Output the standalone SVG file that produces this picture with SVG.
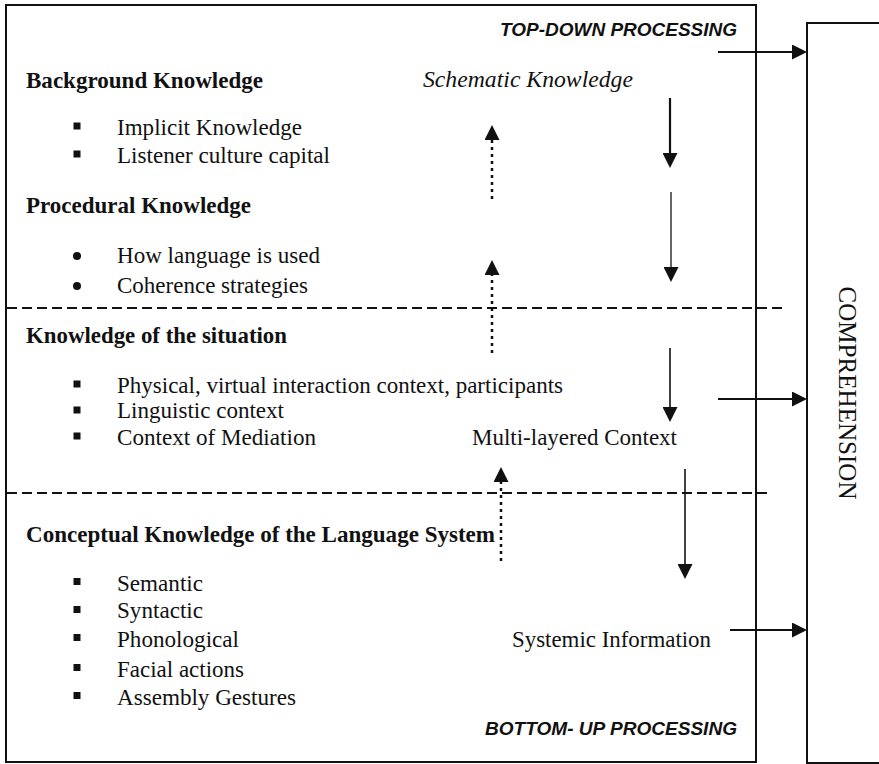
<svg xmlns="http://www.w3.org/2000/svg" width="879" height="764" viewBox="0 0 879 764">
<style>
.t{font-family:"Liberation Serif","Times New Roman",serif;font-size:24px;fill:#111}
.b{font-weight:bold}
.i{font-style:italic}
.p{font-family:"Liberation Sans",Arial,sans-serif;font-size:19px;font-weight:bold;font-style:italic;fill:#111}
.box{fill:none;stroke:#111;stroke-width:2}
.dash{fill:none;stroke:#111;stroke-width:2;stroke-dasharray:10,5}
.dot{fill:none;stroke:#111;stroke-width:2.5;stroke-dasharray:3,4}
.sol{fill:none;stroke:#111}
.sq{fill:#111}
</style>
<defs>
<marker id="ah" markerUnits="userSpaceOnUse" markerWidth="15" markerHeight="15" refX="11" refY="7.5" orient="auto">
<path d="M0,0 L15,7.5 L0,15 z" fill="#111"/>
</marker>
</defs>
<rect width="879" height="764" fill="#fff"/>
<g id="frame">
<rect class="box" x="6" y="5" width="750" height="757"/>
</g>
<g id="comprehension">
<path class="box" d="M880,23 H807 V763 H880"/>
<text class="t" style="font-size:26px" text-anchor="middle" textLength="213" lengthAdjust="spacingAndGlyphs" transform="translate(839,393) rotate(90)">COMPREHENSION</text>
</g>
<g id="labels">
<text class="p" x="500" y="36" textLength="237" lengthAdjust="spacingAndGlyphs">TOP-DOWN PROCESSING</text>
<text class="p" x="485" y="735" textLength="252" lengthAdjust="spacingAndGlyphs">BOTTOM- UP PROCESSING</text>
</g>
<g id="background-knowledge">
<text class="t b" x="26" y="88" textLength="237" lengthAdjust="spacingAndGlyphs">Background Knowledge</text>
<rect class="sq" x="73.5" y="122.5" width="7" height="7"/>
<text class="t" x="117" y="135" textLength="185" lengthAdjust="spacingAndGlyphs">Implicit Knowledge</text>
<rect class="sq" x="73.5" y="150.5" width="7" height="7"/>
<text class="t" x="117" y="163" textLength="213" lengthAdjust="spacingAndGlyphs">Listener culture capital</text>
</g>
<g id="procedural-knowledge">
<text class="t b" x="26" y="213" textLength="225" lengthAdjust="spacingAndGlyphs">Procedural Knowledge</text>
<circle class="sq" cx="77" cy="256" r="4"/>
<text class="t" x="117" y="263" textLength="203" lengthAdjust="spacingAndGlyphs">How language is used</text>
<circle class="sq" cx="77" cy="286" r="4"/>
<text class="t" x="117" y="293" textLength="191" lengthAdjust="spacingAndGlyphs">Coherence strategies</text>
</g>
<g id="schematic-knowledge">
<text class="t i" x="423" y="87" textLength="210" lengthAdjust="spacingAndGlyphs">Schematic Knowledge</text>
</g>
<g id="situation-knowledge">
<text class="t b" x="26" y="343" textLength="261" lengthAdjust="spacingAndGlyphs">Knowledge of the situation</text>
<rect class="sq" x="73.5" y="380.5" width="7" height="7"/>
<text class="t" x="117" y="393" textLength="446" lengthAdjust="spacingAndGlyphs">Physical, virtual interaction context, participants</text>
<rect class="sq" x="73.5" y="406.5" width="7" height="7"/>
<text class="t" x="117" y="418" textLength="167" lengthAdjust="spacingAndGlyphs">Linguistic context</text>
<rect class="sq" x="73.5" y="432.5" width="7" height="7"/>
<text class="t" x="117" y="445" textLength="199" lengthAdjust="spacingAndGlyphs">Context of Mediation</text>
</g>
<g id="multi-layered-context">
<text class="t" x="472" y="445" textLength="205" lengthAdjust="spacingAndGlyphs">Multi-layered Context</text>
</g>
<g id="conceptual-knowledge">
<text class="t b" x="26" y="542" textLength="469" lengthAdjust="spacingAndGlyphs">Conceptual Knowledge of the Language System</text>
<rect class="sq" x="73.5" y="578" width="7" height="7"/>
<text class="t" x="117" y="591" textLength="86" lengthAdjust="spacingAndGlyphs">Semantic</text>
<rect class="sq" x="73.5" y="606" width="7" height="7"/>
<text class="t" x="117" y="618" textLength="86" lengthAdjust="spacingAndGlyphs">Syntactic</text>
<rect class="sq" x="73.5" y="634" width="7" height="7"/>
<text class="t" x="117" y="647" textLength="122" lengthAdjust="spacingAndGlyphs">Phonological</text>
<rect class="sq" x="73.5" y="664" width="7" height="7"/>
<text class="t" x="117" y="677" textLength="127" lengthAdjust="spacingAndGlyphs">Facial actions</text>
<rect class="sq" x="73.5" y="692" width="7" height="7"/>
<text class="t" x="117" y="705" textLength="179" lengthAdjust="spacingAndGlyphs">Assembly Gestures</text>
</g>
<g id="systemic-information">
<text class="t" x="512" y="647" textLength="199" lengthAdjust="spacingAndGlyphs">Systemic Information</text>
</g>
<g id="connectors">
<line class="dash" x1="7" y1="308" x2="782" y2="308"/>
<line class="dash" x1="7" y1="493" x2="768" y2="493"/>
<line class="dot" x1="492" y1="199" x2="492" y2="129" marker-end="url(#ah)"/>
<line class="dot" x1="492" y1="353" x2="492" y2="264" marker-end="url(#ah)"/>
<line class="dot" x1="501" y1="561" x2="501" y2="471" marker-end="url(#ah)"/>
<line class="sol" stroke-width="2.2" x1="670" y1="98" x2="670" y2="164" marker-end="url(#ah)"/>
<line class="sol" stroke-width="1.3" x1="671" y1="192" x2="671" y2="278" marker-end="url(#ah)"/>
<line class="sol" stroke-width="1.6" x1="670" y1="348" x2="670" y2="418" marker-end="url(#ah)"/>
<line class="sol" stroke-width="1.6" x1="685" y1="469" x2="685" y2="575" marker-end="url(#ah)"/>
<line class="sol" stroke-width="2" x1="718" y1="52" x2="803" y2="52" marker-end="url(#ah)"/>
<line class="sol" stroke-width="2" x1="718" y1="399" x2="803" y2="399" marker-end="url(#ah)"/>
<line class="sol" stroke-width="2" x1="730" y1="630" x2="803" y2="630" marker-end="url(#ah)"/>
</g>
</svg>
